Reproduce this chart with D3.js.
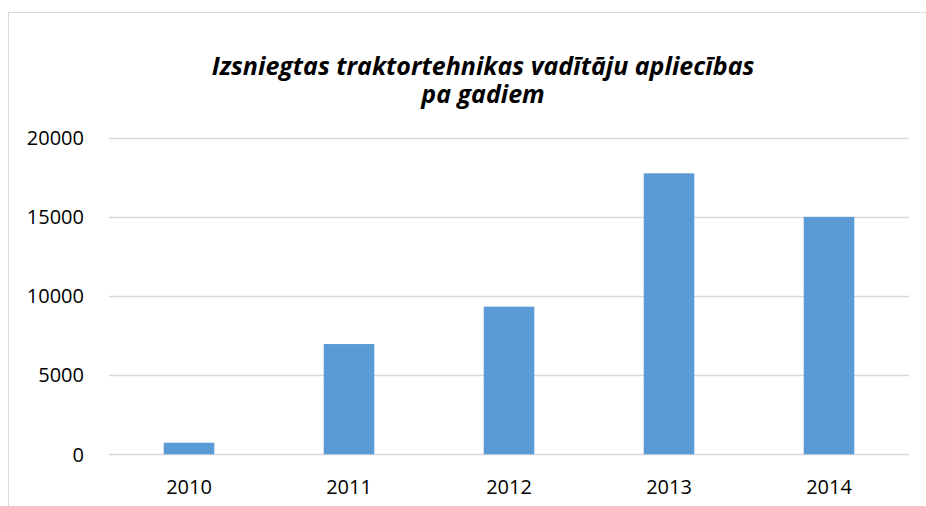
<!DOCTYPE html>
<html>
<head>
<meta charset="utf-8">
<script src="https://cdn.jsdelivr.net/npm/d3@7"></script>
<style>
  body { margin: 0; background: #fff; }
  text { font-family: "Open Sans", sans-serif; fill: #000; }
  .title { font-weight: bold; font-style: italic; font-size: 25px; }
  .tick { font-size: 20px; }
</style>
</head>
<body>
<div id="chart"></div>
<script>
// data
var years = ["2010", "2011", "2012", "2013", "2014"];
var counts = [730, 6960, 9320, 17740, 14990];
var yTicks = [0, 5000, 10000, 15000, 20000];
var titleLines = ["Izsniegtas traktortehnikas vadītāju apliecības", "pa gadiem"];

var width = 926, height = 506;
var plot = { left: 109, right: 909, top: 137.5, bottom: 454.3 };

var svg = d3.select("#chart").append("svg")
  .attr("width", width)
  .attr("height", height);

// chart frame (runs off the right / bottom edge like the screenshot)
svg.append("rect")
  .attr("x", 8.5).attr("y", 12.5)
  .attr("width", 940).attr("height", 520)
  .attr("fill", "#fff")
  .attr("stroke", "#d9d9d9")
  .attr("stroke-width", 1);

var x = d3.scaleBand()
  .domain(years)
  .range([plot.left, plot.right])
  .paddingInner(0.684)
  .paddingOuter(0.342);

var y = d3.scaleLinear()
  .domain([0, 20000])
  .range([plot.bottom, plot.top]);

// gridlines
svg.append("g")
  .selectAll("line")
  .data(yTicks)
  .enter()
  .append("line")
  .attr("x1", plot.left).attr("x2", plot.right)
  .attr("y1", function(d) { return Math.round(y(d)) + 0.5; })
  .attr("y2", function(d) { return Math.round(y(d)) + 0.5; })
  .attr("stroke", "#d9d9d9")
  .attr("stroke-width", 1.3);

// y labels
svg.append("g")
  .selectAll("text")
  .data(yTicks)
  .enter()
  .append("text")
  .attr("class", "tick")
  .attr("x", 84)
  .attr("y", function(d) { return y(d); })
  .attr("dy", "0.36em")
  .attr("text-anchor", "end")
  .text(function(d) { return d; });

// bars
svg.append("g")
  .selectAll("rect")
  .data(counts)
  .enter()
  .append("rect")
  .attr("x", function(d, i) { return x(years[i]); })
  .attr("width", x.bandwidth())
  .attr("y", function(d) { return y(d); })
  .attr("height", function(d) { return y(0) - y(d); })
  .attr("fill", "#5b9bd5");

// x labels
svg.append("g")
  .selectAll("text")
  .data(years)
  .enter()
  .append("text")
  .attr("class", "tick")
  .attr("x", function(d) { return x(d) + x.bandwidth() / 2; })
  .attr("y", 486.5)
  .attr("dy", "0.36em")
  .attr("text-anchor", "middle")
  .text(function(d) { return d; });

// title - one text element, one tspan per line
svg.append("text")
  .attr("class", "title")
  .attr("text-anchor", "middle")
  .selectAll("tspan")
  .data(titleLines)
  .enter()
  .append("tspan")
  .attr("x", 483)
  .attr("y", function(d, i) { return 75 + i * 28; })
  .text(function(d) { return d; });
</script>
</body>
</html>
